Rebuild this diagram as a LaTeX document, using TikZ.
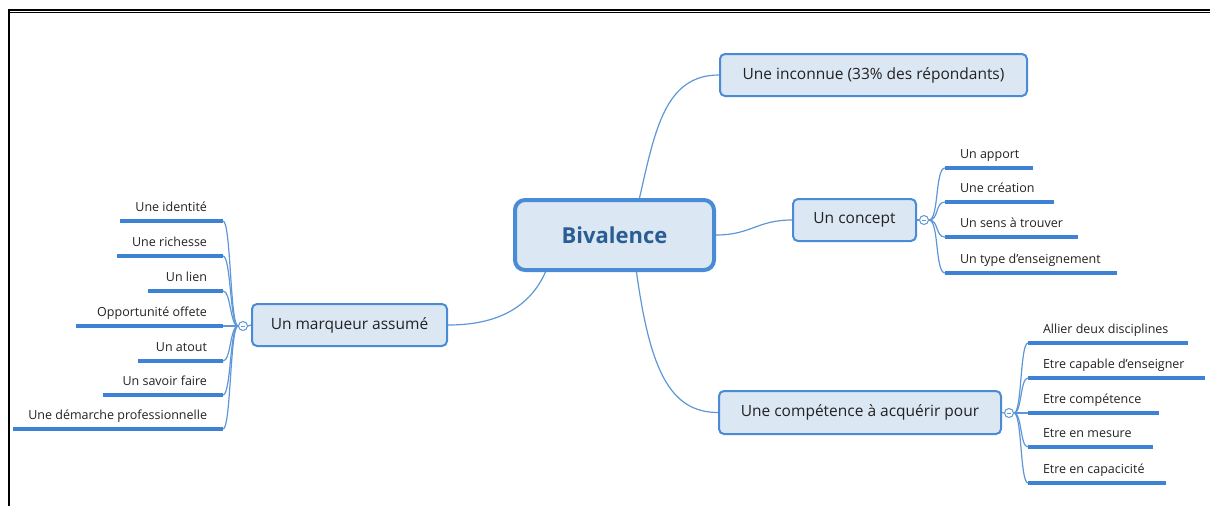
\documentclass[tikz,border=0pt]{standalone}
\usepackage{fontspec}
\setmainfont{Open Sans}
\definecolor{boxline}{HTML}{4A8BD6}
\definecolor{boxfill}{HTML}{DCE7F4}
\definecolor{connline}{HTML}{5D97D8}
\definecolor{ulinecol}{HTML}{3E82D5}
\definecolor{txt}{HTML}{222222}
\definecolor{rootxt}{HTML}{2A5D94}
\newcommand{\LeafL}[5]{\node[leaf, anchor=south west] (#1) at (#2,#3) {\makebox[#4pt][l]{\hspace{15pt}#5}};
  \draw[uline] (#1.south west) -- (#1.south east);}
\newcommand{\LeafR}[5]{\node[leaf, anchor=south east] (#1) at (#2,#3) {\makebox[#4pt][r]{#5\hspace{16pt}}};
  \draw[uline] (#1.south west) -- (#1.south east);}
\begin{document}
\begin{tikzpicture}[x=1pt,y=-1pt,
  branch/.style={draw=boxline, fill=boxfill, line width=2pt, rounded corners=5pt,
    text=txt, font=\fontsize{15.5}{18}\selectfont, inner sep=0pt},
  root/.style={draw=boxline, fill=boxfill, line width=4pt, rounded corners=10pt,
    text=rootxt, font=\fontsize{22}{26}\selectfont\bfseries, inner sep=0pt},
  leaf/.style={inner xsep=0pt, inner ysep=0pt, outer sep=0pt, text depth=10pt,
    text=txt, font=\fontsize{12.5}{14}\selectfont},
  uline/.style={draw=ulinecol, line width=4pt},
  conn/.style={draw=connline, line width=1.2pt},
  toggle/.style={circle, draw=connline, fill=white, line width=1pt, minimum size=9pt, inner sep=0pt,
    path picture={\draw[connline, line width=0.8pt] ([xshift=-2.3pt]path picture bounding box.center) -- ([xshift=2.3pt]path picture bounding box.center);}},
  frame/.style={draw=black}
]
\useasboundingbox (0,0) rectangle (1210,506);
% frame
\draw[frame, line width=2pt] (9,9.5) -- (1210,9.5);
\draw[frame, line width=1pt] (10,12.5) -- (1210,12.5);
\draw[frame, line width=2.5pt] (9,8.5) -- (9,506);

% main nodes
\node[root, minimum width=199pt, minimum height=70pt] (biv) at (614.5,235) {Bivalence};
\node[branch, minimum width=307pt, minimum height=42pt] (inc) at (873.5,75) {Une inconnue (33\% des répondants)};
\node[branch, minimum width=123pt, minimum height=42pt] (con) at (854.5,220) {Un concept};
\node[branch, minimum width=282pt, minimum height=43pt] (com) at (860,412.5) {Une compétence à acquérir pour};
\node[branch, minimum width=195pt, minimum height=42pt] (mar) at (349.5,325) {Un marqueur assumé};

% main connectors
\coordinate (b1) at ([xshift=25pt]biv.north);
\draw[conn] (b1) .. controls (655,130) and (665,75) .. (inc.west);
\draw[conn] (biv.east) .. controls +(35,0) and +(-35,0) .. (con.west);
\coordinate (b2) at ([xshift=22pt]biv.south);
\draw[conn] (b2) .. controls (650,370) and (670,412.5) .. (com.west);
\coordinate (b3) at ([xshift=-69pt]biv.south);
\draw[conn] (b3) .. controls (525,318) and (480,325) .. (mar.east);

% toggles
\node[toggle] (tc) at (924,220) {};
\node[toggle] (tk) at (1009,413) {};
\node[toggle] (tm) at (243,326) {};
\draw[conn] (con.east) -- (tc.west);
\draw[conn] (com.east) -- (tk.west);
\draw[conn] (mar.west) -- (tm.east);

% concept leaves
\LeafL{c1}{945}{168}{88}{Un apport}
\LeafL{c2}{945}{202}{109}{Une création}
\LeafL{c3}{945}{237}{133}{Un sens à trouver}
\LeafL{c4}{945}{273}{172}{Un type d'enseignement}
\foreach \n in {c1,c2,c3,c4}
  \draw[conn] (tc.east) .. controls +(10,0) and +(-10,0) .. (\n.south west);

% competence leaves
\LeafL{k1}{1028}{343}{160}{Allier deux disciplines}
\LeafL{k2}{1028}{378}{177}{Etre capable d'enseigner}
\LeafL{k3}{1028}{413}{131}{Etre compétence}
\LeafL{k4}{1028}{447}{125}{Etre en mesure}
\LeafL{k5}{1028}{483}{138}{Etre en capacicité}
\foreach \n in {k1,k2,k3,k4,k5}
  \draw[conn] (tk.east) .. controls +(8,0) and +(-8,0) .. (\n.south west);

% marqueur leaves
\LeafR{m1}{223}{221}{103}{Une identité}
\LeafR{m2}{223}{256}{106}{Une richesse}
\LeafR{m3}{223}{291}{75}{Un lien}
\LeafR{m4}{223}{326}{147}{Opportunité offete}
\LeafR{m5}{223}{361}{85}{Un atout}
\LeafR{m6}{223}{395}{120}{Un savoir faire}
\LeafR{m7}{223}{429}{210}{Une démarche professionnelle}
\foreach \n in {m1,m2,m3,m4,m5,m6,m7}
  \draw[conn] (tm.west) .. controls +(-8,0) and +(8,0) .. (\n.south east);
\end{tikzpicture}
\end{document}
